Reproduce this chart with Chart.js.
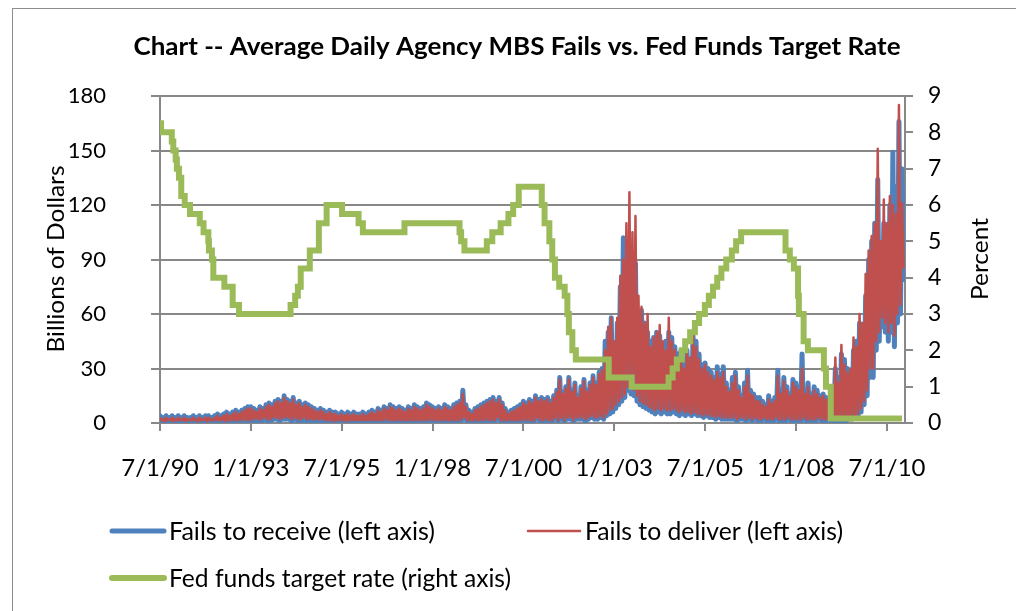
<!DOCTYPE html>
<html>
<head>
<meta charset="utf-8">
<script src="https://cdn.jsdelivr.net/npm/chart.js"></script>
<style>
  html, body { margin: 0; padding: 0; background: #fff; }
  #myChart { display: block; }
</style>
</head>
<body>
<canvas id="myChart" width="1016" height="611"></canvas>
<script>
const FONT = 'Lato, "Noto Sans", sans-serif';

// monthly envelopes, first entry = July 1990 (one row per year)
const startYear = 1990.5;

// fails to receive (left axis), monthly tops and bottoms, billions
const receiveHigh = [
  4, 3, 4, 3, 4, 3,
  4, 3, 4, 3, 3, 4, 3, 4, 3, 4, 4, 3,
  4, 5, 4, 5, 6, 5, 6, 7, 6, 7, 8, 9,
  9, 8, 7, 9, 8, 10, 11, 10, 12, 13, 12, 15,
  13, 12, 14, 11, 12, 10, 11, 10, 9, 8, 7, 8,
  7, 6, 7, 6, 6, 5, 6, 5, 6, 5, 6, 5,
  5, 6, 5, 6, 7, 6, 8, 7, 9, 8, 10, 9,
  8, 9, 8, 7, 9, 8, 10, 9, 8, 9, 11, 10,
  9, 8, 9, 8, 10, 9, 8, 10, 11, 12, 18, 10,
  7, 6, 8, 9, 10, 11, 12, 13, 14, 12, 14, 11,
  8, 6, 7, 8, 9, 10, 12, 11, 13, 12, 15, 13,
  14, 13, 14, 12, 15, 18, 25, 17, 20, 25, 18, 22,
  15, 20, 24, 18, 22, 26, 22, 28, 30, 45, 50, 58,
  40, 55, 75, 102, 85, 95, 80, 88, 60, 62, 55, 50,
  45, 47, 50, 48, 40, 45, 50, 47, 42, 38, 40, 35,
  40, 35, 48, 45, 38, 32, 33, 30, 28, 25, 31, 27,
  31, 22, 18, 25, 28, 20, 15, 22, 29, 18, 16, 14,
  14, 12, 10, 15, 12, 14, 29, 18, 25, 20, 16, 24,
  22, 20, 38, 18, 22, 16, 20, 18, 15, 16, 14, 12,
  20, 30, 25, 38, 35, 30, 25, 40, 45, 55, 50, 70,
  90, 100, 110, 134, 95, 110, 105, 120, 149, 130, 166, 140
];
const receiveLow = [
  1, 0.5, 1, 1, 0.5, 1,
  1, 1, 0.5, 1, 1, 1, 0.5, 1, 1, 0.5, 1, 1,
  1, 1, 1, 0.5, 1, 1, 1, 1, 1, 1.5, 1, 1,
  1, 1.5, 1, 1, 2, 1, 1, 2, 2, 1, 2, 2,
  2, 1, 2, 1, 1, 2, 1, 1, 1, 1, 1, 1,
  1, 1, 1, 0.5, 1, 1, 1, 0.5, 1, 1, 1, 1,
  1, 1, 1, 1, 1, 1, 1, 1, 1.5, 1, 1, 1,
  1, 1, 1, 1, 1, 1, 1, 1, 1, 1, 1, 1.5,
  1, 1, 1, 1, 1, 1, 1, 1, 1, 1.5, 2, 1,
  1, 1, 1, 1, 1, 1.5, 1, 1, 1, 2, 1, 1,
  1, 1, 1, 1, 1, 1, 1.5, 1, 1, 1, 2, 1,
  1, 1.5, 1, 1, 2, 1, 2, 1, 2, 2, 1, 2,
  2, 2, 1, 2, 3, 2, 2, 3, 2, 4, 5, 6,
  8, 10, 12, 14, 18, 16, 15, 12, 10, 9, 8, 7,
  6, 5, 6, 5, 6, 5, 5, 6, 5, 4, 5, 4,
  5, 4, 5, 4, 4, 3, 4, 3, 3, 2, 3, 2,
  2, 2, 2, 2, 1, 2, 2, 1, 2, 1, 2, 1,
  1, 2, 1, 1, 1, 2, 1, 1, 1, 2, 1, 1,
  1, 1, 2, 1, 1, 1, 1, 2, 1, 1, 1, 1,
  1, 1, 1, 1, 1, 2, 2, 3, 4, 6, 10, 15,
  25, 25, 40, 45, 53, 50, 45, 50, 42, 55, 60, 79
];

// fails to deliver (left axis), monthly tops and bottoms, billions
const deliverHigh = [
  3, 2, 3, 2, 3, 2,
  3, 2, 3, 2, 2, 3, 2, 3, 2, 3, 3, 2,
  3, 4, 3, 4, 5, 4, 5, 6, 5, 6, 7, 8,
  8, 7, 6, 8, 7, 9, 10, 9, 11, 12, 11, 14,
  12, 11, 13, 10, 11, 9, 10, 9, 8, 7, 6, 7,
  6, 5, 6, 5, 5, 4, 5, 4, 5, 4, 5, 4,
  4, 5, 4, 5, 6, 5, 7, 6, 8, 7, 9, 8,
  7, 8, 7, 6, 8, 7, 9, 8, 7, 8, 10, 9,
  8, 7, 8, 7, 9, 8, 7, 9, 10, 11, 16, 9,
  6, 5, 7, 8, 9, 10, 11, 12, 13, 11, 13, 10,
  7, 5, 6, 7, 8, 9, 11, 10, 12, 11, 14, 12,
  13, 12, 13, 11, 14, 17, 24, 16, 19, 24, 17, 21,
  14, 19, 23, 17, 21, 25, 21, 27, 29, 40, 53, 58,
  45, 58, 81, 90, 110, 127, 105, 114, 70, 64, 55, 60,
  42, 47, 50, 54, 45, 40, 58, 45, 40, 35, 38, 30,
  38, 36, 50, 42, 35, 30, 32, 28, 26, 24, 28, 25,
  28, 20, 17, 22, 26, 18, 14, 20, 26, 16, 15, 12,
  12, 10, 9, 13, 11, 12, 26, 16, 23, 18, 15, 22,
  20, 18, 30, 16, 20, 15, 18, 16, 14, 15, 13, 11,
  18, 36, 22, 43, 32, 28, 30, 47, 42, 60, 55, 82,
  95, 103, 110, 151, 100, 123, 110, 125, 120, 115, 175, 121
];
const deliverLow = [
  1.5, 1, 1.5, 1.5, 1, 1.5,
  1.5, 1.5, 1, 1.5, 1.5, 1.5, 1, 1.5, 1.5, 1, 1.5, 1.5,
  1.5, 1.5, 1.5, 1, 1.5, 1.5, 1.5, 1.5, 1.5, 2, 1.5, 1.5,
  2, 2.5, 2, 2, 3, 2, 2, 3, 3, 2, 3, 3,
  3, 2, 3, 2, 2, 3, 2, 2, 2, 2, 2, 2,
  1.5, 1.5, 1.5, 1, 1.5, 1.5, 1.5, 1, 1.5, 1.5, 1.5, 1.5,
  1.5, 1.5, 1.5, 1.5, 1.5, 1.5, 1.5, 1.5, 2, 1.5, 1.5, 1.5,
  1.5, 1.5, 1.5, 1.5, 1.5, 1.5, 1.5, 1.5, 1.5, 1.5, 1.5, 2,
  1.5, 1.5, 1.5, 1.5, 1.5, 1.5, 1.5, 1.5, 1.5, 2, 3, 1.5,
  1.5, 1.5, 1.5, 1.5, 1.5, 2, 1.5, 1.5, 1.5, 3, 1.5, 1.5,
  1.5, 1.5, 1.5, 1.5, 1.5, 1.5, 2, 1.5, 1.5, 1.5, 3, 1.5,
  1.5, 2, 1.5, 1.5, 3, 1.5, 3, 1.5, 3, 3, 1.5, 3,
  3, 3, 2, 3, 4, 3, 3, 4, 3, 5, 7, 8,
  10, 12, 14, 16, 20, 20, 18, 15, 12, 11, 10, 9,
  8, 7, 8, 7, 8, 7, 7, 8, 7, 6, 7, 6,
  6, 5, 6, 5, 5, 4, 5, 4, 4, 3, 4, 3,
  3, 3, 3, 3, 2, 3, 3, 2, 3, 2, 3, 2,
  2, 3, 2, 2, 2, 3, 2, 2, 2, 3, 2, 2,
  2, 2, 3, 2, 2, 2, 2, 3, 2, 2, 2, 2,
  2, 2, 2, 2, 2, 3, 3, 4, 5, 8, 12, 18,
  30, 30, 45, 50, 58, 55, 50, 55, 48, 60, 65, 85
];

// fed funds target rate changes (right axis), percent
const fedDates = [
  "1990-07-01", "1990-07-13", "1990-10-29", "1990-11-13", "1990-12-07", "1990-12-19",
  "1991-01-09", "1991-02-01", "1991-03-08", "1991-04-30", "1991-08-06", "1991-09-13",
  "1991-10-31", "1991-11-06", "1991-12-06", "1991-12-20",
  "1992-04-09", "1992-07-02", "1992-09-04",
  "1994-02-04", "1994-03-22", "1994-04-18", "1994-05-17", "1994-08-16", "1994-11-15",
  "1995-02-01", "1995-07-06", "1995-12-19", "1996-01-31", "1997-03-25",
  "1998-09-29", "1998-10-15", "1998-11-17",
  "1999-06-30", "1999-08-24", "1999-11-16",
  "2000-02-02", "2000-03-21", "2000-05-16",
  "2001-01-03", "2001-01-31", "2001-03-20", "2001-04-18", "2001-05-15", "2001-06-27",
  "2001-08-21", "2001-09-17", "2001-10-02", "2001-11-06", "2001-12-11",
  "2002-11-06", "2003-06-25",
  "2004-06-30", "2004-08-10", "2004-09-21", "2004-11-10", "2004-12-14",
  "2005-02-02", "2005-03-22", "2005-05-03", "2005-06-30", "2005-08-09", "2005-09-20",
  "2005-11-01", "2005-12-13",
  "2006-01-31", "2006-03-28", "2006-05-10", "2006-06-29",
  "2007-09-18", "2007-10-31", "2007-12-11",
  "2008-01-22", "2008-01-30", "2008-03-18", "2008-04-30", "2008-10-08", "2008-10-29", "2008-12-16",
  "2010-12-01"
];
const fedRates = [
  8.25, 8.0, 7.75, 7.5, 7.25, 7.0,
  6.75, 6.25, 6.0, 5.75, 5.5, 5.25,
  5.0, 4.75, 4.5, 4.0,
  3.75, 3.25, 3.0,
  3.25, 3.5, 3.75, 4.25, 4.75, 5.5,
  6.0, 5.75, 5.5, 5.25, 5.5,
  5.25, 5.0, 4.75,
  5.0, 5.25, 5.5,
  5.75, 6.0, 6.5,
  6.0, 5.5, 5.0, 4.5, 4.0, 3.75,
  3.5, 3.0, 2.5, 2.0, 1.75,
  1.25, 1.0,
  1.25, 1.5, 1.75, 2.0, 2.25,
  2.5, 2.75, 3.0, 3.25, 3.5, 3.75,
  4.0, 4.25,
  4.5, 4.75, 5.0, 5.25,
  4.75, 4.5, 4.25,
  3.5, 3.0, 2.25, 2.0, 1.5, 1.0, 0.125,
  0.125
];

const xTickValues = [1990.5, 1993, 1995.5, 1998, 2000.5, 2003, 2005.5, 2008, 2010.5];
const xTickLabels = ["7/1/90", "1/1/93", "7/1/95", "1/1/98", "7/1/00", "1/1/03", "7/1/05", "1/1/08", "7/1/10"];

const titleText = "Chart -- Average Daily Agency MBS Fails vs. Fed Funds Target Rate";
const leftTitle = "Billions of Dollars";
const rightTitle = "Percent";
const legendItems = [
    { text: "Fails to receive (left axis)", color: "#4F81BD", width: 5, x: 110, y: 531, w: 266 },
    { text: "Fails to deliver (left axis)", color: "#C0504D", width: 2.5, x: 526, y: 531, w: 258 },
    { text: "Fed funds target rate (right axis)", color: "#9BBB59", width: 6, x: 110, y: 578, w: 342 }
];

const toYear = (s) => {
    const d = new Date(s + "T00:00:00Z");
    const y = d.getUTCFullYear();
    return y + (d - Date.UTC(y, 0, 1)) / (Date.UTC(y + 1, 0, 1) - Date.UTC(y, 0, 1));
}
// top of each month, then its bottom half a month later
const envelope = (high, low) => {
    const pts = [];
    high.forEach((v, i) => {
        pts.push({ x: startYear + i / 12, y: v });
        pts.push({ x: startYear + (i + 0.5) / 12, y: low[i] });
    });
    return pts;
}

// text fitted to the width it has in the original
const fitText = (ctx, text, x, y, width, angle) => {
    ctx.save();
    ctx.translate(x, y);
    if (angle) ctx.rotate(angle);
    const w = ctx.measureText(text).width;
    ctx.scale(width / w, 1);
    ctx.fillText(text, 0, 0);
    ctx.restore();
}

const GRID = "#888888";

const decorPlugin = {
    id: "decor",
    beforeDraw(chart) {
        const ctx = chart.ctx;
        ctx.save();
        ctx.fillStyle = "#fff";
        ctx.fillRect(0, 0, chart.width, chart.height);
        ctx.strokeStyle = "#8c8c8c";
        ctx.lineWidth = 1;
        ctx.strokeRect(12.5, 8.5, 1100, 700);
        ctx.restore();
    },
    afterDraw(chart) {
        const ctx = chart.ctx;
        ctx.save();
        ctx.fillStyle = "#000";
        ctx.textBaseline = "middle";
        ctx.textAlign = "center";
        ctx.font = "bold 25px " + FONT;
        fitText(ctx, titleText, 517, 47, 767);
        ctx.font = "23px " + FONT;
        fitText(ctx, leftTitle, 57, 259, 187, -Math.PI / 2);
        fitText(ctx, rightTitle, 981, 259, 82, -Math.PI / 2);

        // legend
        ctx.textAlign = "left";
        ctx.font = "25px " + FONT;
        legendItems.forEach((it) => {
            ctx.beginPath();
            ctx.lineCap = "round";
            ctx.strokeStyle = it.color;
            ctx.lineWidth = it.width;
            ctx.moveTo(it.x + 2, it.y);
            ctx.lineTo(it.x + 54, it.y);
            ctx.stroke();
            fitText(ctx, it.text, it.x + 59, it.y + 1, it.w);
        });
        ctx.restore();
    }
};

const config = {
    type: "line",
    data: {
        datasets: [
            {
                label: "Fed funds target rate (right axis)",
                data: fedDates.map((d, i) => ({ x: toYear(d), y: fedRates[i] })),
                yAxisID: "y1",
                borderColor: "#9BBB59",
                borderWidth: 6,
                stepped: true,
                pointRadius: 0,
                order: 0
            },
            {
                label: "Fails to deliver (left axis)",
                data: envelope(deliverHigh, deliverLow),
                yAxisID: "y",
                borderColor: "#C0504D",
                borderWidth: 2.5,
                borderJoinStyle: "round",
                pointRadius: 0,
                order: 1
            },
            {
                label: "Fails to receive (left axis)",
                data: envelope(receiveHigh, receiveLow),
                yAxisID: "y",
                borderColor: "#4F81BD",
                borderWidth: 5,
                borderJoinStyle: "round",
                borderCapStyle: "round",
                pointRadius: 0,
                order: 2
            }
        ]
    },
    options: {
        responsive: false,
        animation: false,
        layout: { padding: { top: 96, left: 0, right: 0, bottom: 0 } },
        plugins: {
            legend: { display: false },
            title: { display: false },
            tooltip: { enabled: false }
        },
        scales: {
            x: {
                type: "linear",
                min: 1990.5,
                max: 2011.0,
                afterFit: (scale) => { scale.height = 188; },
                afterBuildTicks: (scale) => { scale.ticks = xTickValues.map((v) => ({ value: v })); },
                ticks: {
                    autoSkip: false,
                    maxRotation: 0,
                    padding: 23,
                    color: "#000",
                    font: { family: FONT, size: 24 },
                    callback: (v, i) => xTickLabels[i]
                },
                grid: { drawOnChartArea: false, color: GRID, lineWidth: 2, tickLength: 8 },
                border: { color: GRID, width: 2 }
            },
            y: {
                position: "left",
                min: 0,
                max: 180,
                afterFit: (scale) => { scale.width = 160; },
                ticks: {
                    stepSize: 30,
                    padding: 45,
                    color: "#000",
                    font: { family: FONT, size: 22 }
                },
                grid: { color: GRID, lineWidth: 2, tickLength: 9 },
                border: { color: GRID, width: 2 }
            },
            y1: {
                position: "right",
                min: 0,
                max: 9,
                afterFit: (scale) => { scale.width = 111; },
                ticks: {
                    stepSize: 1,
                    padding: 15,
                    color: "#000",
                    font: { family: FONT, size: 23 }
                },
                grid: { drawOnChartArea: false, color: GRID, lineWidth: 2, tickLength: 8 },
                border: { color: GRID, width: 2 }
            }
        }
    },
    plugins: [decorPlugin]
};

const myChart = new Chart(document.getElementById("myChart"), config);
</script>
</body>
</html>
